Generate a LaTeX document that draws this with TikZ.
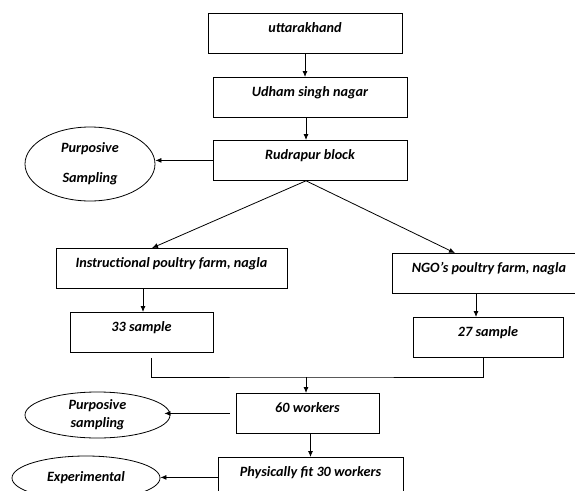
\documentclass[tikz,border=0pt]{standalone}
\usepackage{fontspec}
\setmainfont{Carlito}
\usetikzlibrary{arrows.meta,shapes.geometric}

\begin{document}
\begin{tikzpicture}[x=1pt,y=-1pt,>={Latex[length=6pt,width=5pt]},line width=0.8pt,
            font=\fontsize{14.2}{17}\selectfont\bfseries\itshape,
            box node/.style={rectangle,draw,anchor=north,minimum width=#1,inner xsep=2pt,inner ysep=4pt,text height=15pt,text depth=17pt},
            oval node/.style={ellipse,draw,inner sep=0pt,align=center}]
            \useasboundingbox (0,0) rectangle (575,490);
            \node[box node=194pt] (1) at (305,13) {uttarakhand};
            \node[box node=194pt] (2) at (310,77) {Udham singh nagar};
            \node[box node=194pt] (3) at (310,140) {Rudrapur block};
            \node[oval node,minimum width=130pt,minimum height=74pt] (4) at (90,164) {Purposive\\[13pt]Sampling};
            \node[box node=231pt] (5) at (171.5,248) {Instructional poultry farm, nagla};
            \node[box node=194pt] (6) at (489,253) {NGO’s poultry farm, nagla};
            \node[box node=143pt] (7) at (141.5,312) {33 sample};
            \node[box node=150pt] (8) at (488,317) {27 sample};
            \coordinate (m) at (306,377);
            \node[box node=143pt] (9) at (307.5,393) {60 workers};
            \node[oval node,minimum width=145pt,minimum height=46pt] (10) at (97.5,415) {Purposive\\[1pt]sampling};
            \node[box node=185pt] (11) at (310.5,457) {Physically fit 30 workers};
            \node[oval node,minimum width=148pt,minimum height=44pt] (12) at (86,478) {Experimental};
            % connectors
            \draw[->] (1.south) -- (1.south |- 2.north);
            \draw[->] ([xshift=-4pt]2.south) -- ([xshift=-4pt]3.north);
            \draw[->] (3.west) -- (3.west -| 4.east);
            \draw[->] ([xshift=-4pt]3.south) -- ([xshift=-19.5pt]5.north);
            \draw[->] ([xshift=-4pt]3.south) -- ([xshift=-34pt]6.north);
            \draw[->] ([xshift=1.5pt]7.north |- 5.south) -- ([xshift=1.5pt]7.north);
            \draw[->] ([xshift=-12pt]8.north |- 6.south) -- ([xshift=-12pt]8.north);
            \draw ([xshift=9.5pt,yshift=-5pt]7.south) |- (m) -| ([xshift=-5pt]8.south);
            \draw[->] (m) -- (m |- 9.north);
            \draw[->] ([xshift=-6pt]9.west) -- ([xshift=-6pt]9.west -| 10.east);
            \draw[->] (11.north |- 9.south) -- (11.north);
            \draw[->] (11.west) -- (11.west -| 12.east);
\end{tikzpicture}
\end{document}
